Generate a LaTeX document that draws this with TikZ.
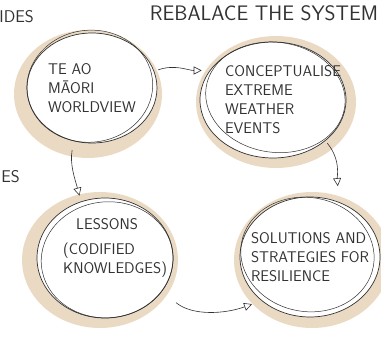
\documentclass[tikz,border=0pt]{standalone}
\usepackage{tikz}
\usetikzlibrary{arrows.meta}
\usetikzlibrary{shapes.geometric}
\definecolor{wash}{RGB}{214, 182, 136}
\definecolor{pencil}{RGB}{50, 50, 50}

\begin{document}
\begin{tikzpicture}[x=1pt, y=1pt,
    ring/.style={ellipse, draw=pencil, line width=0.7pt, fill=white, inner sep=0pt},
    ring2/.style={draw=pencil, line width=0.5pt},
    stain/.style={fill=wash, fill opacity=0.5},
    hand/.style={font=\sffamily\fontsize{15.5}{19}\selectfont, text=pencil, align=left, inner sep=0pt},
    flow/.style={-{Triangle[open, length=8pt, width=8pt]}, draw=pencil, line width=0.6pt}]
    \useasboundingbox (0, 0) rectangle (381, 338);

    \fill [stain] (88, 244) ellipse (74 and 64);
    \fill [stain] (276, 236) ellipse (80 and 66);
    \fill [stain] (100, 78) ellipse (78 and 68);
    \fill [stain] (312, 78) ellipse (78 and 68);

    \node [ring, minimum width=130, minimum height=110] (tl) at (92, 250) {};
    \node [ring, minimum width=146, minimum height=116] (tr) at (273, 238) {};
    \node [ring, minimum width=136, minimum height=120] (ll) at (105, 80) {};
    \node [ring, minimum width=140, minimum height=120] (lr) at (310, 81) {};

    \draw [ring2, rotate around={6:(tl)}] (tl) ++(-2, 2) ellipse (63 and 56);
    \draw [ring2, rotate around={-8:(tr)}] (tr) ++(2, 3) ellipse (70 and 55);
    \draw [ring2, rotate around={5:(ll)}] (ll) ++(2, -2) ellipse (66 and 58);
    \draw [ring2, rotate around={-10:(lr)}] (lr) ++(-3, 2) ellipse (67 and 57);

    \node [hand] (tltext) at (tl) {TE AO\\M\=AORI\\WORLDVIEW};
    \node [hand, xshift=10pt] (trtext) at (tr) {CONCEPTUALISE\\EXTREME\\WEATHER\\EVENTS};
    \node [hand, anchor=west, xshift=-42pt, yshift=10pt] (lltext) at (ll) {\hspace*{13pt}LESSONS\\[6pt](CODIFIED\\KNOWLEDGES)};
    \node [hand] (lrtext) at (lr) {SOLUTIONS AND\\STRATEGIES FOR\\RESILIENCE};

    \node [hand, font=\sffamily\fontsize{21}{24}\selectfont] (rebalance) at (264, 325) {REBALACE THE SYSTEM};
    \node [hand, font=\sffamily\fontsize{17}{20}\selectfont, anchor=east] (ides) at (34, 321) {IDES};
    \node [hand, font=\sffamily\fontsize{17}{20}\selectfont, anchor=east] (es) at (20, 161) {ES};

    \draw [flow, shorten <=4pt, shorten >=8pt] (tl.15) to [out=20, in=180] (tr.155);
    \draw [flow, shorten <=3pt, shorten >=16pt] (tr.-38) to [out=-50, in=95] (lr.62);
    \draw [flow, shorten <=9pt, shorten >=6pt] (tl.-109) to [out=-100, in=105] (ll.113);
    \draw [flow, shorten <=18pt, shorten >=10pt] (ll.-30) to [out=-40, in=200] (lr.222);
  \end{tikzpicture}
\end{document}
